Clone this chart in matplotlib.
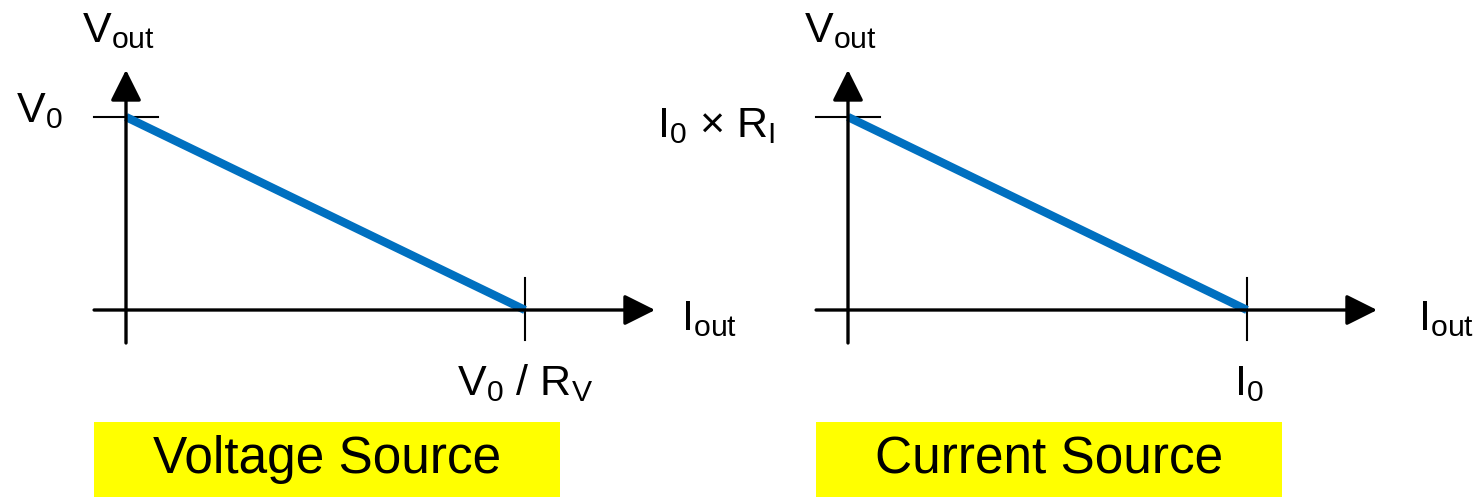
import numpy as np
import matplotlib.pyplot as plt
from matplotlib.patches import Rectangle

plt.rcParams['font.family'] = ['Liberation Sans', 'DejaVu Sans']
plt.rcParams['mathtext.fontset'] = 'custom'
plt.rcParams['mathtext.rm'] = 'Liberation Sans'
plt.rcParams['mathtext.it'] = 'Liberation Sans:italic'
plt.rcParams['mathtext.bf'] = 'Liberation Sans:bold'

# data (normalised): Vout at Iout=0 and Iout at Vout=0
titles = ["Voltage Source", "Current Source"]
v_open = [1.0, 1.0]
i_short = [1.0, 1.0]
y_tick_labels = ["V$_0$", "I$_0$ × R$_\\mathrm{I}$"]
x_tick_labels = ["V$_0$ / R$_\\mathrm{V}$", "I$_0$"]
x_axis_label = "I$_\\mathrm{out}$"
y_axis_label = "V$_\\mathrm{out}$"

BLUE = "#0070C0"
W, H = 1477, 498

fig = plt.figure(figsize=(W / 100, H / 100), dpi=100)

# each panel: pixel origin of the axes cross, 1 unit = 399 px in x, 193 px in y
origins = [126, 848]
spans = [(0, 738), (738, 1477)]
ylab_pos = [(-0.158, 0.974), (-0.183, 0.896)]
xlab_x = [1.391, 1.429]
sx, sy, y0px = 399.0, 193.0, 310.0

for k in range(2):
    l, r = spans[k]
    ax = fig.add_axes([l / W, 0, (r - l) / W, 1])
    ax.set_xlim((l - origins[k]) / sx, (r - origins[k]) / sx)
    ax.set_ylim((y0px - H) / sy, y0px / sy)
    ax.axis("off")

    vo, isc = v_open[k], i_short[k]
    head = dict(arrowstyle="-|>,head_length=1.9,head_width=0.95",
                mutation_scale=10, lw=2.4, color="k",
                shrinkA=0, shrinkB=0)
    # axes with arrow heads
    ax.annotate("", xy=(1.326, 0), xytext=(-0.08, 0), arrowprops=head)
    ax.annotate("", xy=(0, 1.244), xytext=(0, -0.171), arrowprops=head)

    # tick marks
    ax.plot([-0.08, 0.08], [vo, vo], color="k", lw=1.5)
    ax.plot([isc, isc], [-0.155, 0.166], color="k", lw=1.5)

    # load line
    ax.plot([0, isc], [vo, 0], color=BLUE, lw=6, solid_capstyle="butt")

    fs = 31
    ax.text(-0.02, 1.389, y_axis_label, fontsize=fs, ha="center", va="baseline")
    ax.text(xlab_x[k], -0.104, x_axis_label, fontsize=fs, ha="left", va="baseline")
    ax.text(ylab_pos[k][0], ylab_pos[k][1], y_tick_labels[k], fontsize=fs,
            ha="right", va="baseline")
    ax.text(isc + 0.005 * k, -0.44, x_tick_labels[k], fontsize=fs,
            ha="center", va="baseline")

    # yellow caption box
    ax.add_patch(Rectangle((-0.08, -0.969), 1.168, 0.389,
                           facecolor="#FFFF00", edgecolor="none", clip_on=False))
    ax.text(0.504, -0.775, titles[k], fontsize=37, ha="center", va="center")

fig.savefig("out.png", dpi=100)
